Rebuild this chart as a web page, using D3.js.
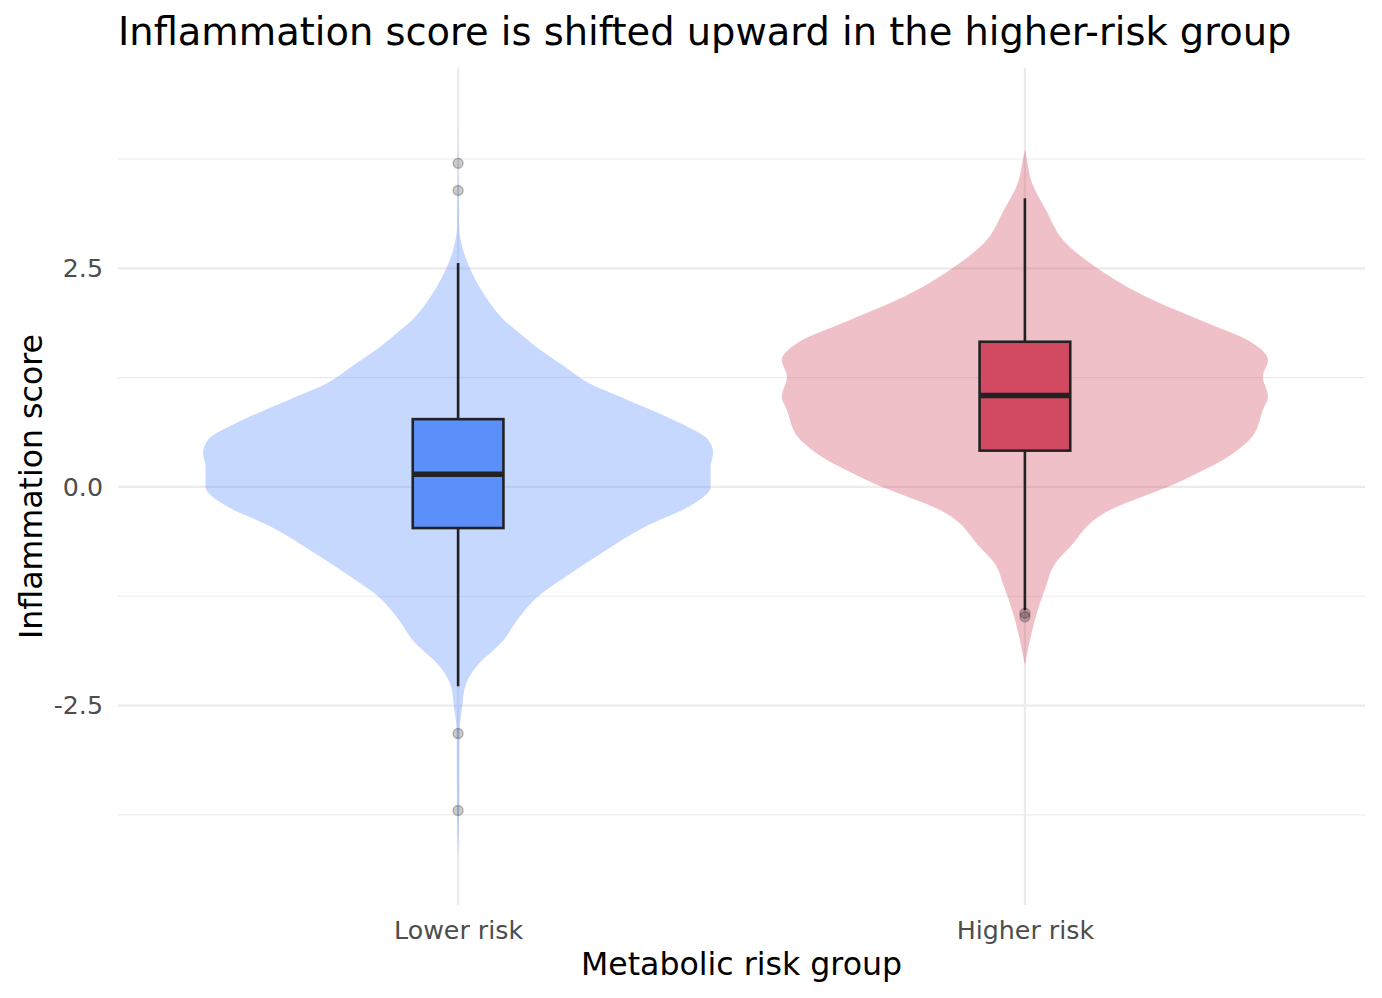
<!DOCTYPE html>
<html>
<head>
<meta charset="utf-8">
<script src="https://cdn.jsdelivr.net/npm/d3@7"></script>
<style>
  body { margin: 0; background: #fff; }
  text { font-family: "DejaVu Sans", sans-serif; }
</style>
</head>
<body>
<svg id="chart" width="1382" height="998"></svg>
<script>
// ── Data ──
const groups = ["Lower risk", "Higher risk"];
const fills  = ["#5B8FF9", "#D24A62"];

// violin outlines: score values and relative density (1 = widest)
const lowerScore   = [4.14, 2.97, 2.75, 2.52, 2.22, 1.91, 1.76, 1.57, 1.37, 1.19, 1.00, 0.73, 0.54, 0.39, 0.23, 0.00, -0.19, -0.46, -0.76, -1.03, -1.26, -1.49, -1.78, -2.06, -2.29, -2.52, -2.78, -3.73, -4.23];
const lowerDensity = [0, 0.004, 0.016, 0.043, 0.098, 0.18, 0.24, 0.32, 0.42, 0.51, 0.66, 0.87, 0.98, 1.00, 0.99, 0.99, 0.925, 0.73, 0.56, 0.42, 0.31, 0.24, 0.17, 0.07, 0.027, 0.016, 0.006, 0.004, 0];
const higherScore   = [3.86, 3.74, 3.48, 3.17, 2.79, 2.56, 2.33, 2.14, 1.88, 1.65, 1.45, 1.26, 1.03, 0.88, 0.57, 0.39, 0.05, -0.30, -0.69, -0.87, -1.14, -1.52, -1.83, -2.04];
const higherDensity = [0, 0.008, 0.027, 0.082, 0.16, 0.255, 0.376, 0.50, 0.71, 0.89, 0.953, 0.933, 0.953, 0.933, 0.89, 0.82, 0.60, 0.31, 0.176, 0.12, 0.082, 0.039, 0.014, 0];

// box stats: [lower whisker, q1, median, q3, upper whisker]
const lowerBox  = [-2.28, -0.47, 0.145, 0.775, 2.56];
const higherBox = [-1.41, 0.415, 1.045, 1.66, 3.30];
const lowerOutliers  = [3.70, 3.39, -2.82, -3.70];
const higherOutliers = [-1.445, -1.485];

const yTicks      = [-2.5, 0, 2.5];
const yTickLabels = ["-2.5", "0.0", "2.5"];
const yMinorTicks = [-3.75, -1.25, 1.25, 3.75];

// ── Layout ──
const panel = { left: 118, right: 1365, top: 68, bottom: 905 };

const svg = d3.select('#chart');

const x = d3.scalePoint().domain(groups).range([panel.left, panel.right]).padding(0.6);
const y = d3.scaleLinear().domain([-4.78, 4.79]).range([panel.bottom, panel.top]);
const step = x.step();
const width = d3.scaleLinear().domain([0, 1]).range([0, step * 0.45]);

// ── Grid ──
const grid = svg.append('g');
grid.selectAll('.minor').data(yMinorTicks).enter().append('line')
    .attr('x1', panel.left).attr('x2', panel.right)
    .attr('y1', d => y(d)).attr('y2', d => y(d))
    .attr('stroke', '#EBEBEB').attr('stroke-width', 1.1);
grid.selectAll('.major').data(yTicks).enter().append('line')
    .attr('x1', panel.left).attr('x2', panel.right)
    .attr('y1', d => y(d)).attr('y2', d => y(d))
    .attr('stroke', '#EBEBEB').attr('stroke-width', 2.2);
grid.selectAll('.vmajor').data(groups).enter().append('line')
    .attr('x1', d => x(d)).attr('x2', d => x(d))
    .attr('y1', panel.top).attr('y2', panel.bottom)
    .attr('stroke', '#EBEBEB').attr('stroke-width', 2.2);

// ── Violins ──
const violins = [
    { g: groups[0], pts: lowerScore.map((v, i) => ({ v, d: lowerDensity[i] })) },
    { g: groups[1], pts: higherScore.map((v, i) => ({ v, d: higherDensity[i] })) }
];
violins.forEach((vl, i) => {
    const cx = x(vl.g);
    const area = d3.area()
        .y(d => y(d.v))
        .x0(d => cx - width(d.d))
        .x1(d => cx + width(d.d))
        .curve(d3.curveMonotoneY);
    svg.append('path').datum(vl.pts.slice().reverse())
        .attr('d', area)
        .attr('fill', fills[i]).attr('fill-opacity', 0.35);
});

// ── Boxplots ──
const boxes = [lowerBox, higherBox];
const outliers = [lowerOutliers, higherOutliers];
const boxW = step * 0.16;
boxes.forEach((b, i) => {
    const cx = x(groups[i]);
    const g = svg.append('g');
    g.append('line').attr('x1', cx).attr('x2', cx).attr('y1', y(b[3])).attr('y2', y(b[4]))
        .attr('stroke', '#222').attr('stroke-width', 2.6);
    g.append('line').attr('x1', cx).attr('x2', cx).attr('y1', y(b[1])).attr('y2', y(b[0]))
        .attr('stroke', '#222').attr('stroke-width', 2.6);
    g.append('rect')
        .attr('x', cx - boxW / 2).attr('width', boxW)
        .attr('y', y(b[3])).attr('height', y(b[1]) - y(b[3]))
        .attr('fill', fills[i]).attr('stroke', '#222').attr('stroke-width', 2.6);
    g.append('line').attr('x1', cx - boxW / 2).attr('x2', cx + boxW / 2)
        .attr('y1', y(b[2])).attr('y2', y(b[2]))
        .attr('stroke', '#222').attr('stroke-width', 5.5);
    g.selectAll('circle').data(outliers[i]).enter().append('circle')
        .attr('cx', cx).attr('cy', d => y(d)).attr('r', 5)
        .attr('fill', 'rgba(0,0,0,0.2)').attr('stroke', 'rgba(0,0,0,0.22)').attr('stroke-width', 1.5);
});

// ── Axes ──
const yAxis = svg.append('g').attr('transform', `translate(${panel.left},0)`)
    .call(d3.axisLeft(y).tickValues(yTicks).tickFormat((d, i) => yTickLabels[i]).tickSize(0).tickPadding(15));
yAxis.select('.domain').remove();
yAxis.selectAll('text').attr('font-size', 25.3).attr('fill', '#4D4D4D')
    .attr('font-family', '"DejaVu Sans", sans-serif');

const xAxis = svg.append('g').attr('transform', `translate(0,${panel.bottom})`)
    .call(d3.axisBottom(x).tickSize(0).tickPadding(16));
xAxis.select('.domain').remove();
xAxis.selectAll('text').attr('font-size', 25.3).attr('fill', '#4D4D4D')
    .attr('font-family', '"DejaVu Sans", sans-serif');

// ── Titles ──
svg.append('text').attr('x', panel.left).attr('y', 45)
    .attr('font-size', 38.4).attr('fill', '#000')
    .text('Inflammation score is shifted upward in the higher-risk group');
svg.append('text').attr('x', (panel.left + panel.right) / 2).attr('y', 975)
    .attr('text-anchor', 'middle').attr('font-size', 31.6).attr('fill', '#000')
    .text('Metabolic risk group');
svg.append('text').attr('transform', `translate(42,${(panel.top + panel.bottom) / 2}) rotate(-90)`)
    .attr('text-anchor', 'middle').attr('font-size', 31.6).attr('fill', '#000')
    .text('Inflammation score');
</script>
</body>
</html>
